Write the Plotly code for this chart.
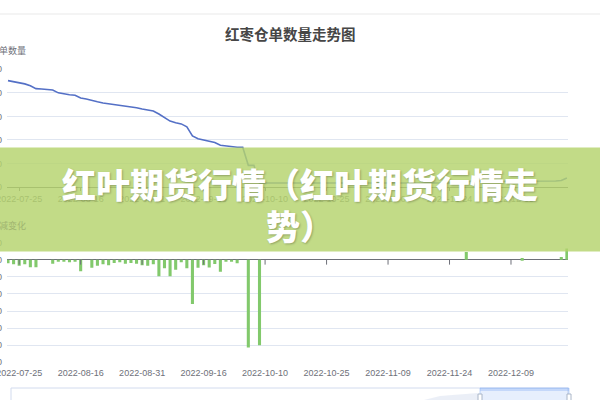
import plotly.graph_objects as go

# ---------------- data ----------------
dates = [
    "2022-07-21", "2022-07-22", "2022-07-25", "2022-07-26", "2022-07-27", "2022-07-28", "2022-07-29",
    "2022-08-01", "2022-08-03", "2022-08-05", "2022-08-09", "2022-08-11", "2022-08-15",
    "2022-08-16", "2022-08-17", "2022-08-18", "2022-08-19", "2022-08-22", "2022-08-23", "2022-08-24",
    "2022-08-25", "2022-08-26", "2022-08-29", "2022-08-30",
    "2022-08-31", "2022-09-01", "2022-09-02", "2022-09-05", "2022-09-06", "2022-09-07", "2022-09-08",
    "2022-09-09", "2022-09-13", "2022-09-14", "2022-09-15",
    "2022-09-16", "2022-09-19", "2022-09-20", "2022-09-21", "2022-09-22", "2022-09-23", "2022-09-26",
    "2022-09-27", "2022-09-28", "2022-09-29", "2022-09-30",
    "2022-10-10", "2022-10-11", "2022-10-12", "2022-10-13", "2022-10-14", "2022-10-17", "2022-10-18",
    "2022-10-19", "2022-10-20", "2022-10-21", "2022-10-24",
    "2022-10-25", "2022-10-26", "2022-10-27", "2022-10-28", "2022-10-31", "2022-11-01", "2022-11-02",
    "2022-11-03", "2022-11-04", "2022-11-07", "2022-11-08",
    "2022-11-09", "2022-11-10", "2022-11-11", "2022-11-14", "2022-11-15", "2022-11-16", "2022-11-17",
    "2022-11-18", "2022-11-21", "2022-11-22", "2022-11-23",
    "2022-11-24", "2022-11-25", "2022-11-28", "2022-11-29", "2022-11-30", "2022-12-01", "2022-12-02",
    "2022-12-05", "2022-12-06", "2022-12-07", "2022-12-08",
    "2022-12-09", "2022-12-12", "2022-12-13", "2022-12-14", "2022-12-15", "2022-12-16", "2022-12-19",
    "2022-12-20", "2022-12-21", "2022-12-22", "2022-12-23",
]

receipts = [
    9040, 8960, 8880, 8760, 8600, 8360, 8320, 8280, 8240, 8000,
    7900, 7840, 7800, 7560, 7480, 7340, 7240, 7140, 7080, 7020,
    6960, 6900, 6820, 6740, 6620, 6520, 6460, 6200, 5920, 5600,
    5460, 5360, 5120, 4340, 4100, 4000, 3860, 3780, 3540, 3480,
    3420, 3380, 3380, 1840, 1840, 340, 340, 340, 340, 340,
    340, 340, 340, 340, 340, 340, 340, 340, 340, 340,
    340, 340, 340, 340, 340, 340, 340, 340, 340, 340,
    340, 340, 340, 340, 340, 340, 340, 340, 340, 340,
    340, 340, 475, 475, 475, 475, 475, 475, 475, 475,
    475, 475, 505, 505, 505, 505, 505, 505, 505, 555,
    755,
]

changes = [
    -60, -80, -105, -80, -130, -130, 0, 0, -70, -36,
    -36, -45, -30, -200, 0, -140, -105, -80, -95, -57,
    -45, -70, -57, -70, -95, -105, -80, -290, -150, -290,
    -175, -45, -150, -775, -140, -95, -135, -75, -210, -36,
    -24, -63, 0, -1540, 0, -1500, 0, 0, 0, 0,
    0, 0, 0, 0, 0, 0, 0, 0, 0, 0,
    0, 0, 0, 0, 0, 0, 0, 0, 0, 0,
    0, 0, 0, 0, 0, 0, 0, 0, 0, 0,
    0, 0, 135, 0, 0, 0, 0, 0, 0, 0,
    0, 0, 30, 0, 0, 0, 0, 0, 0, 50,
    200,
]

tick_labels = ["2022-07-25", "2022-08-16", "2022-08-31", "2022-09-16", "2022-10-10",
               "2022-10-25", "2022-11-09", "2022-11-24", "2022-12-09"]

title_text = "红枣仓单数量走势图"
y1_name = "仓单数量"
y2_name = "增减变化"
banner_line1 = "红叶期货行情（红叶期货行情走"
banner_line2 = "势）"

# ---------------- layout helpers (pixel -> paper) ----------------
L, R, H = 7, 568, 400
W = R - L


def px(x):
    return (x - L) / W


def py(y):
    return (H - y) / H


AXIS = "#6E7079"
GRID = "#E0E6F1"
TICKFONT = dict(family="Liberation Sans, Arial, sans-serif", size=9, color=AXIS)
CJK = "Noto Sans CJK SC"

fig = go.Figure()
fig.add_trace(go.Scatter(x=dates, y=receipts, mode="lines", xaxis="x", yaxis="y",
                         line=dict(color="#5470c6", width=1.6), showlegend=False,
                         hoverinfo="x+y"))
fig.add_trace(go.Bar(x=dates, y=changes, xaxis="x2", yaxis="y2",
                     marker=dict(color="#82c96c", line=dict(width=0)), showlegend=False))

xr = [-0.18, 100.2]
fig.update_layout(
    width=600, height=400,
    margin=dict(l=L, r=600 - R, t=0, b=0, autoexpand=False),
    paper_bgcolor="white", plot_bgcolor="white",
    bargap=0.45,
    xaxis=dict(domain=[0, 1], anchor="y", type="category", range=xr, automargin=False,
               tickmode="array", tickvals=tick_labels, ticktext=tick_labels,
               tickfont=TICKFONT, showgrid=False, showline=True, linecolor=AXIS,
               ticks="outside", ticklen=3, tickcolor=AXIS, zeroline=False),
    yaxis=dict(domain=[py(187), py(69.3)], anchor="x", range=[0, 10000], tick0=0, dtick=2000,
               automargin=False, tickformat="d", ticklabelstandoff=4,
               tickfont=TICKFONT, gridcolor=GRID, showline=False, zeroline=False, ticks=""),
    xaxis2=dict(domain=[0, 1], anchor="y2", type="category", range=xr, automargin=False,
                tickmode="array", tickvals=tick_labels, ticktext=tick_labels, ticklabelstandoff=4,
                tickfont=TICKFONT, showgrid=False, showline=False, ticks="", zeroline=False),
    yaxis2=dict(domain=[py(362.3), py(242.7)], anchor="x2", range=[-1800, 300], tick0=0, dtick=300,
                automargin=False, tickformat="d", ticklabelstandoff=4,
                tickfont=TICKFONT, gridcolor=GRID, showline=False, zeroline=True,
                zerolinecolor=AXIS, zerolinewidth=1, ticks=""),
)

shapes = []
# thin page border near the top
shapes.append(dict(type="line", xref="paper", yref="paper", x0=px(0), x1=px(600),
                   y0=py(14), y1=py(14), line=dict(color="#e9e9e9", width=1)))
# bottom-axis ticks on the zero line
for lab in tick_labels:
    shapes.append(dict(type="line", xref="x2", yref="y2", x0=lab, x1=lab, y0=0, y1=-85,
                       line=dict(color=AXIS, width=1)))
# dataZoom slider (cut off at the bottom)
shapes.append(dict(type="rect", xref="paper", yref="paper", x0=px(11), x1=px(568),
                   y0=py(412), y1=py(388), line=dict(color="#d2dbee", width=1), fillcolor="white"))
shapes.append(dict(type="path", xref="paper", yref="paper",
                   path=f"M {px(420)},{py(401)} L {px(440)},{py(396)} L {px(478)},{py(393)} L {px(478)},{py(401)} Z",
                   line=dict(width=0), fillcolor="rgba(210,219,238,0.45)"))
shapes.append(dict(type="rect", xref="paper", yref="paper", x0=px(480), x1=px(569),
                   y0=py(412), y1=py(388), line=dict(color="rgba(135,175,244,0.5)", width=1),
                   fillcolor="rgba(135,175,244,0.2)"))
shapes.append(dict(type="rect", xref="paper", yref="paper", x0=px(480), x1=px(569),
                   y0=py(391), y1=py(388), line=dict(width=0), fillcolor="rgba(135,175,244,0.35)"))
for hx in (480, 569):
    shapes.append(dict(type="rect", xref="paper", yref="paper", x0=px(hx - 2), x1=px(hx + 2),
                       y0=py(412), y1=py(394), line=dict(color="#aab6c8", width=1), fillcolor="white"))
# green banner
shapes.append(dict(type="rect", xref="paper", yref="paper", x0=px(0), x1=px(600),
                   y0=py(251.5), y1=py(147.5), line=dict(width=0),
                   fillcolor="rgba(181,211,109,0.82)", layer="above"))
fig.update_layout(shapes=shapes)

ann = []
ann.append(dict(text=title_text, xref="paper", yref="paper", x=px(290), y=py(33),
                xanchor="center", yanchor="middle", showarrow=False,
                font=dict(family=CJK, size=14.5, color="#464646", weight="bold")))
ann.append(dict(text=y1_name, xref="paper", yref="paper", x=px(8), y=py(51), xanchor="center",
                yanchor="middle", showarrow=False, font=dict(family=CJK, size=9, color=AXIS)))
ann.append(dict(text=y2_name, xref="paper", yref="paper", x=px(8), y=py(226), xanchor="center",
                yanchor="middle", showarrow=False, font=dict(family=CJK, size=9, color="rgb(160,180,112)")))
banner_font = dict(family=CJK, size=34, color="white", weight=900,
                   shadow="1px 1px 2px rgba(0,0,0,0.25)")
ann.append(dict(text=banner_line1, xref="paper", yref="paper", x=px(300), y=py(183),
                xanchor="center", yanchor="middle", showarrow=False, font=banner_font))
ann.append(dict(text=banner_line2, xref="paper", yref="paper", x=px(300), y=py(225),
                xanchor="center", yanchor="middle", showarrow=False, font=banner_font))
fig.update_layout(annotations=ann)

fig.write_html("out.html", config={"displayModeBar": False},
               post_script="document.body.style.margin='0';document.body.style.overflow='hidden';")
